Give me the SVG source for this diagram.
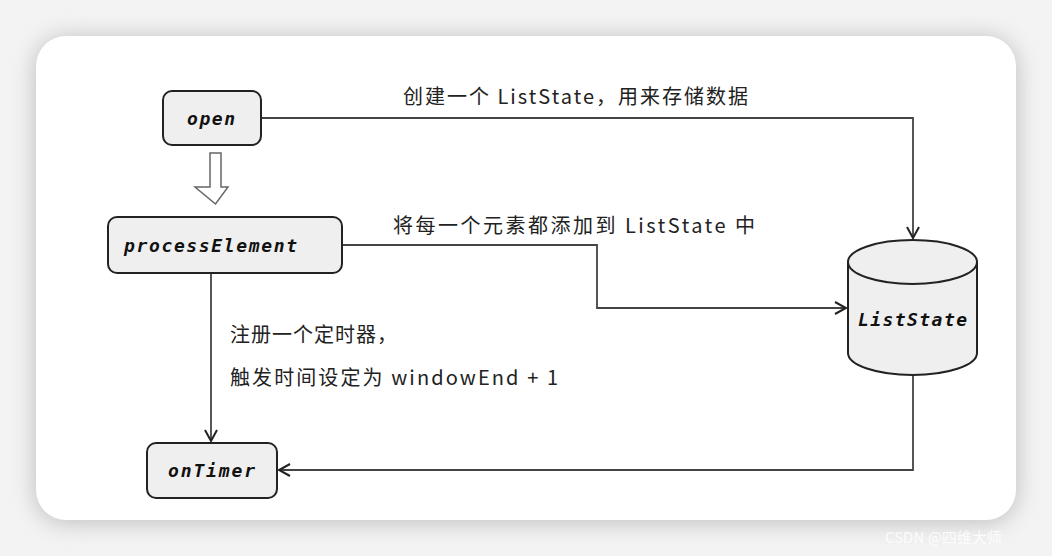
<svg xmlns="http://www.w3.org/2000/svg" width="1052" height="556" viewBox="0 0 1052 556">
<defs>
<filter id="sh" x="-10%" y="-10%" width="120%" height="120%"><feGaussianBlur stdDeviation="12"/></filter>
<marker id="ah" markerWidth="14" markerHeight="14" refX="12" refY="7" orient="auto" markerUnits="userSpaceOnUse"><path d="M1,1 L12,7 L1,13" fill="none" stroke="#222" stroke-width="2"/></marker>
<style>
.box{fill:#efefef;stroke:#222;stroke-width:2}
.lbl{font-family:"DejaVu Sans Mono",monospace;font-weight:bold;font-style:italic;font-size:18px;fill:#111}
.txt{font-family:"Noto Sans CJK SC","DejaVu Sans",sans-serif;font-size:20px;fill:#222}
.ln{fill:none;stroke:#444;stroke-width:1.8}
</style>
</defs>
<rect width="1052" height="556" fill="#f3f3f3"/>
<rect x="36" y="38" width="980" height="484" rx="30" fill="#bbb" filter="url(#sh)"/>
<rect x="36" y="36" width="980" height="484" rx="30" fill="#fff"/>
<g id="connectors">
<path class="ln" d="M261,118 H913 V238" marker-end="url(#ah)"/>
<path class="ln" d="M342,245 H597 V308 H846" marker-end="url(#ah)"/>
<path class="ln" d="M211,273 V441" marker-end="url(#ah)"/>
<path class="ln" d="M913,376 V470 H279" marker-end="url(#ah)"/>
<path d="M210,153 H221 V187 H228 L215.5,204 L195,187 H210 Z" fill="#fff" stroke="#666" stroke-width="1.5"/>
</g>
<g id="open"><rect class="box" x="163" y="91" width="98" height="54" rx="9"/><text class="lbl" x="187" y="125" textLength="48" lengthAdjust="spacing">open</text></g>
<g id="processElement"><rect class="box" x="108" y="217" width="234" height="56" rx="9"/><text class="lbl" x="124" y="252" textLength="173" lengthAdjust="spacing">processElement</text></g>
<g id="onTimer"><rect class="box" x="147" y="443" width="130" height="55" rx="9"/><text class="lbl" x="168" y="477" textLength="87" lengthAdjust="spacing">onTimer</text></g>
<g id="ListState">
<path class="box" d="M848,262 V353 A64.5,22 0 0 0 977,353 V262 A64.5,22 0 0 0 848,262 Z"/>
<path d="M848,262 A64.5,22 0 0 0 977,262" fill="none" stroke="#222" stroke-width="2"/>
<text class="lbl" x="858" y="326" textLength="109" lengthAdjust="spacing">ListState</text>
</g>
<g id="labels">
<text class="txt" x="403" y="104" textLength="345" lengthAdjust="spacing">创建一个 ListState，用来存储数据</text>
<text class="txt" x="393" y="233" textLength="362" lengthAdjust="spacing">将每一个元素都添加到 ListState 中</text>
<text class="txt" x="230" y="342" textLength="167" lengthAdjust="spacing">注册一个定时器，</text>
<text class="txt" x="230" y="385" textLength="328" lengthAdjust="spacing">触发时间设定为 windowEnd + 1</text>
</g>
<text x="885" y="543" font-family="'Noto Sans CJK SC',sans-serif" font-size="15" fill="#fff" fill-opacity="0.85">CSDN @四维大师</text>
</svg>
